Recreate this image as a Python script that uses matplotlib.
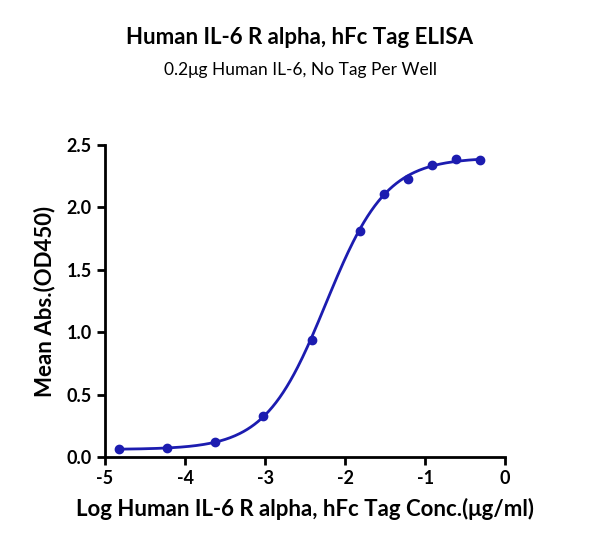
import numpy as np
import matplotlib.pyplot as plt

plt.rcParams['font.family'] = ['Lato', 'DejaVu Sans']
plt.rcParams['axes.unicode_minus'] = False

# measured points
log_conc = [-4.82, -4.22, -3.62, -3.02, -2.42, -1.82, -1.52, -1.22, -0.92, -0.62, -0.32]
mean_abs = [0.06, 0.07, 0.12, 0.33, 0.94, 1.81, 2.11, 2.23, 2.34, 2.39, 2.38]

# 4PL fit parameters (estimated)
bottom, top, log_ec50, hill = 0.06, 2.40, -2.24, 1.15

x_ticks = [-5, -4, -3, -2, -1, 0]
y_ticks = [0.0, 0.5, 1.0, 1.5, 2.0, 2.5]

color = '#1c1cb0'

fig = plt.figure(figsize=(6, 5.6), dpi=100)
ax = fig.add_axes([0.175, 0.184, 0.667, 0.557])

xs = np.linspace(min(log_conc), max(log_conc), 300)
ys = bottom + (top - bottom) / (1 + 10 ** ((log_ec50 - xs) * hill))
ax.plot(xs, ys, color=color, lw=2)
ax.plot(log_conc, mean_abs, 'o', color=color, ms=6)

ax.set_xlim(-5, 0)
ax.set_ylim(0, 2.5)
ax.set_xticks(x_ticks)
ax.set_yticks(y_ticks)
ax.set_yticklabels([f'{v:.1f}' for v in y_ticks])
for s in ['top', 'right']:
    ax.spines[s].set_visible(False)
for s in ['left', 'bottom']:
    ax.spines[s].set_linewidth(2)
ax.tick_params(width=2, length=6, labelsize=13)
for lab in ax.get_xticklabels() + ax.get_yticklabels():
    lab.set_fontweight('bold')

ax.set_xlabel('Log Human IL-6 R alpha, hFc Tag Conc.(μg/ml)', fontsize=16, fontweight='bold', labelpad=8)
ax.set_ylabel('Mean Abs.(OD450)', fontsize=16, fontweight='bold', labelpad=8)

fig.text(0.5, 0.922, 'Human IL-6 R alpha, hFc Tag ELISA', ha='center', fontsize=16, fontweight='bold')
fig.text(0.5, 0.866, '0.2μg Human IL-6, No Tag Per Well', ha='center', fontsize=12.5)

fig.savefig('out.png', dpi=100)
